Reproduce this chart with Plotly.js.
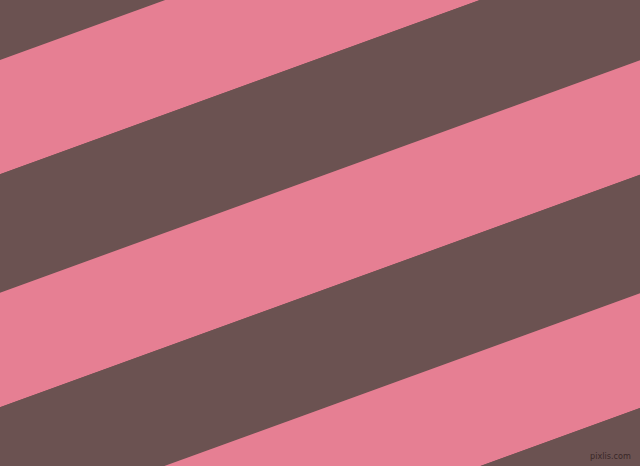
<!DOCTYPE html>
<html>
<head>
<meta charset="utf-8">
<script src="https://cdn.plot.ly/plotly-3.0.1.min.js"></script>
<style>html,body{margin:0;padding:0;background:#6B5251;overflow:hidden}#chart{width:640px;height:466px}</style>
</head>
<body>
<div id="chart"></div>
<script>
// Stripe boundaries: y-intercepts at x=0 (pixels from top), shared slope
const boundaries = [-60, 60, 174.3, 292.7, 407.3, 525.7, 640.5, 760];
const bandColors = ['#6B5251', '#E67F93', '#6B5251', '#E67F93', '#6B5251', '#E67F93', '#6B5251'];
const slope = 0.3632;
const xEdges = [-20, 660];
const watermark = 'pixlis.com';

const traces = [];
for (let i = 0; i < bandColors.length; i++) {
  const top = boundaries[i], bot = boundaries[i + 1];
  const xs = [xEdges[0], xEdges[1], xEdges[1], xEdges[0], xEdges[0]];
  const ys = [top - slope * xEdges[0], top - slope * xEdges[1], bot - slope * xEdges[1], bot - slope * xEdges[0], top - slope * xEdges[0]];
  traces.push({
    type: 'scatter', mode: 'lines', x: xs, y: ys, fill: 'toself',
    fillcolor: bandColors[i], line: {width: 0, color: bandColors[i]},
    hoverinfo: 'skip', showlegend: false
  });
}

const layout = {
  width: 640, height: 466,
  margin: {l: 0, r: 0, t: 0, b: 0, pad: 0},
  paper_bgcolor: '#6B5251', plot_bgcolor: '#6B5251',
  xaxis: {range: [0, 640], visible: false, fixedrange: true},
  yaxis: {range: [466, 0], visible: false, fixedrange: true},
  showlegend: false,
  annotations: [{
    text: watermark, x: 633, y: 463, xref: 'x', yref: 'y',
    xanchor: 'right', yanchor: 'bottom', showarrow: false,
    font: {family: 'DejaVu Sans Condensed, DejaVu Sans', size: 9, color: '#3a2828'}
  }]
};

Plotly.newPlot('chart', traces, layout, {staticPlot: true, displayModeBar: false});
</script>
</body>
</html>
